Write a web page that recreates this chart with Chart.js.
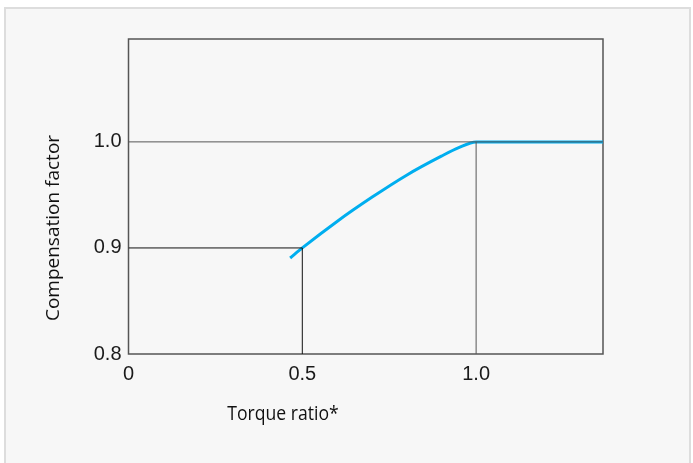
<!DOCTYPE html>
<html>
<head>
<meta charset="utf-8">
<script src="https://cdn.jsdelivr.net/npm/chart.js@4.4.0/dist/chart.umd.min.js"></script>
<style>
    html, body { margin: 0; padding: 0; background: #ffffff; }
    #panel {
        position: absolute; left: 4px; top: 7px; width: 683px; height: 470px;
        background: #f7f7f7; border: 2px solid #dddddd;
    }
    #wrap { position: absolute; left: 0; top: 0; width: 693px; height: 463px; }
</style>
</head>
<body>
<div id="panel"></div>
<div id="wrap"><canvas id="chart" width="693" height="463"></canvas></div>
<script>
// Compensation curve
const torqueRatio = [0.465, 0.5, 0.6, 0.7, 0.8, 0.9, 0.95, 1.0, 1.365];
const compFactor = [0.8905, 0.9, 0.925, 0.9477, 0.9686, 0.9865, 0.9945, 1.0, 1.0];

// Axis ticks
const xTicks = [0, 0.5, 1.0];
const xTickLabels = ['0', '0.5', '1.0'];
const yTicks = [0.8, 0.9, 1.0];
const yTickLabels = ['0.8', '0.9', '1.0'];
const xRange = [0, 1.365];
const yRange = [0.8, 1.097];

// Guide lines (x, y pairs)
const guideTop = { x: [0, 1.365], y: [1.0, 1.0] };
const guideTopDrop = { x: [1.0, 1.0], y: [0.8, 1.0] };
const guideLow = { x: [0, 0.5], y: [0.9, 0.9] };
const guideLowDrop = { x: [0.5, 0.5], y: [0.8, 0.9] };

const xTitle = 'Torque ratio*';
const yTitle = 'Compensation factor';

function toPoints(xs, ys) {
    return xs.map((x, i) => ({ x: x, y: ys[i] }));
}

function guide(g, color) {
    return {
        data: toPoints(g.x, g.y),
        borderColor: color,
        borderWidth: 1,
        pointRadius: 0,
        fill: false,
        tension: 0
    };
}

const frameAndTitles = {
    id: 'frameAndTitles',
    beforeDatasetsDraw(chart) {
        const a = chart.chartArea;
        const ctx = chart.ctx;
        ctx.save();
        ctx.strokeStyle = '#555555';
        ctx.lineWidth = 1.5;
        ctx.strokeRect(a.left, a.top, a.right - a.left, a.bottom - a.top);
        ctx.restore();
    },
    afterDraw(chart) {
        const ctx = chart.ctx;
        ctx.save();
        ctx.fillStyle = '#111111';
        ctx.textAlign = 'center';
        ctx.textBaseline = 'middle';
        ctx.font = '19px "Open Sans"';
        ctx.translate(54, 228);
        ctx.rotate(-Math.PI / 2);
        ctx.fillText(yTitle, 0, 0);
        ctx.restore();

        ctx.save();
        ctx.fillStyle = '#111111';
        ctx.textAlign = 'center';
        ctx.textBaseline = 'middle';
        ctx.font = '20px "Open Sans"';
        ctx.translate(283, 414);
        ctx.scale(0.88, 1);
        ctx.fillText(xTitle, 0, 0);
        ctx.restore();
    }
};

new Chart(document.getElementById('chart'), {
    type: 'line',
    data: {
        datasets: [
            guide(guideTop, '#555555'),
            guide(guideTopDrop, '#555555'),
            guide(guideLow, '#111111'),
            guide(guideLowDrop, '#111111'),
            {
                data: toPoints(torqueRatio, compFactor),
                borderColor: '#00aeef',
                borderWidth: 3,
                pointRadius: 0,
                fill: false,
                cubicInterpolationMode: 'monotone',
                borderCapStyle: 'butt'
            }
        ]
    },
    options: {
        responsive: false,
        animation: false,
        events: [],
        layout: { padding: { top: 39, right: 90, left: 0, bottom: 0 } },
        plugins: {
            legend: { display: false },
            tooltip: { enabled: false }
        },
        scales: {
            x: {
                type: 'linear',
                min: xRange[0],
                max: xRange[1],
                grid: { display: false, drawTicks: false },
                border: { display: false },
                afterBuildTicks: (scale) => {
                    scale.ticks = xTicks.map(v => ({ value: v }));
                },
                afterFit: (scale) => { scale.height = 109; },
                ticks: {
                    padding: 8,
                    color: '#1a1a1a',
                    font: { family: '"Liberation Sans", Arial, sans-serif', size: 20 },
                    callback: (v) => xTickLabels[xTicks.indexOf(v)]
                }
            },
            y: {
                type: 'linear',
                min: yRange[0],
                max: yRange[1],
                grid: { display: false, drawTicks: false },
                border: { display: false },
                afterBuildTicks: (scale) => {
                    scale.ticks = yTicks.map(v => ({ value: v }));
                },
                afterFit: (scale) => { scale.width = 128.5; },
                ticks: {
                    padding: 7,
                    color: '#1a1a1a',
                    font: { family: '"Liberation Sans", Arial, sans-serif', size: 20 },
                    callback: (v) => yTickLabels[yTicks.indexOf(v)]
                }
            }
        }
    },
    plugins: [frameAndTitles]
});
</script>
</body>
</html>
